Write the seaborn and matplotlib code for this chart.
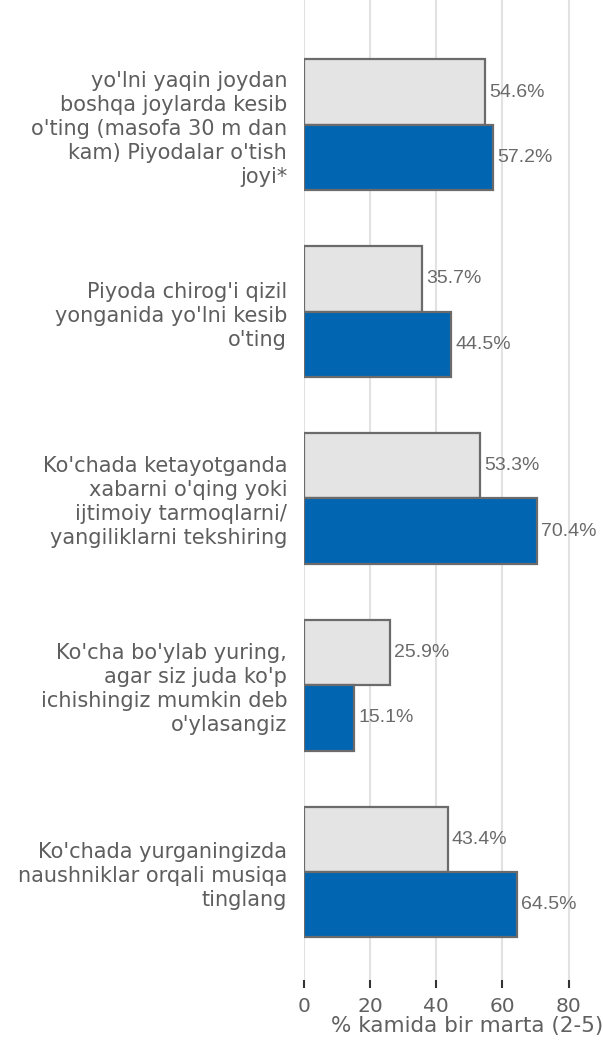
import numpy as np
import pandas as pd
import seaborn as sns
import matplotlib.pyplot as plt

# data
categories = [
    "yo'lni yaqin joydan\nboshqa joylarda kesib\no'ting (masofa 30 m dan\nkam) Piyodalar o'tish\njoyi*",
    "Piyoda chirog'i qizil\nyonganida yo'lni kesib\no'ting",
    "Ko'chada ketayotganda\nxabarni o'qing yoki\nijtimoiy tarmoqlarni/\nyangiliklarni tekshiring",
    "Ko'cha bo'ylab yuring,\nagar siz juda ko'p\nichishingiz mumkin deb\no'ylasangiz",
    "Ko'chada yurganingizda\nnaushniklar orqali musiqa\ntinglang",
]
series_names = ["1", "2"]
values_1 = [54.6, 35.7, 53.3, 25.9, 43.4]
values_2 = [57.2, 44.5, 70.4, 15.1, 64.5]
xticks = [0, 20, 40, 60, 80]
xlabel = "% kamida bir marta (2-5)"

df = pd.DataFrame({
    "cat": categories * 2,
    "series": [series_names[0]] * 5 + [series_names[1]] * 5,
    "val": values_1 + values_2,
})

sns.set_style("white")
plt.rcParams['font.family'] = ['DejaVu Sans']

fig = plt.figure(figsize=(6.03, 10.44), dpi=100)
ax = fig.add_axes([0.504, 0.061, 0.4966, 0.939])

palette = {"1": "#e4e4e4", "2": "#0265b2"}
sns.barplot(data=df, y="cat", x="val", hue="series", palette=palette,
            orient="h", width=0.7, edgecolor="#6b6b6b", linewidth=1.6,
            saturation=1, legend=False, ax=ax)

for cont in ax.containers:
    ax.bar_label(cont, fmt="%.1f%%", padding=3, color="#6a6a6a",
                 fontsize=14, family="Liberation Sans")

ax.set_xlim(0, 90.5)
ax.set_ylim(4.58, -0.668)
ax.set_xticks(xticks)
ax.grid(axis="x", color="#e2e2e2", linewidth=1.5)
ax.set_axisbelow(True)
for s in ax.spines.values():
    s.set_visible(False)

ax.tick_params(axis="x", length=6, width=1.5, color="#333333",
               labelcolor="#606060", labelsize=14.5, pad=6, bottom=True)
ax.tick_params(axis="y", length=0, labelcolor="#5e5e5e", labelsize=15, pad=12)
for lbl in ax.get_yticklabels():
    lbl.set_horizontalalignment("right")
    lbl.set_linespacing(1.25)

ax.set_ylabel("")
ax.set_xlabel(xlabel, fontsize=15.5, color="#606060")
ax.xaxis.set_label_coords(0.545, -0.036)

fig.savefig("out.png", dpi=100)
